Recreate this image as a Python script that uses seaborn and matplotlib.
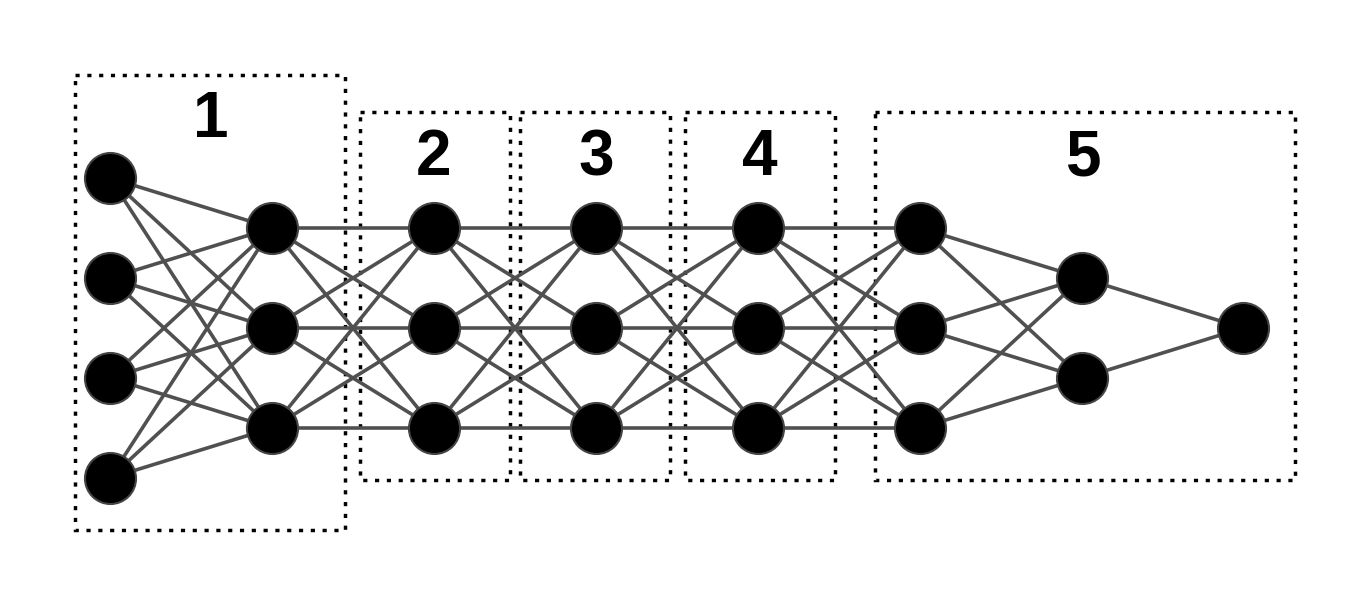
import matplotlib
matplotlib.use("Agg")
import matplotlib.pyplot as plt
import seaborn as sns
import pandas as pd
from matplotlib.collections import LineCollection
from matplotlib.patches import Rectangle

layer_sizes = [4, 3, 3, 3, 3, 3, 2, 1]
layer_x = [110, 272, 434, 596, 758, 920, 1082, 1243]
y_center = 328
y_gap = 100

box_labels = ["1", "2", "3", "4", "5"]
box_x0 = [75, 360, 520, 685, 875]
box_x1 = [345, 510, 670, 835, 1295]
box_y0 = [75, 112, 112, 112, 112]
box_y1 = [530, 480, 480, 480, 480]
label_x = [211, 434, 596, 760, 1083]
label_y = [120, 158, 158, 158, 158]

sns.set_theme(style="white")
fig = plt.figure(figsize=(13.69, 6.06), dpi=100)
ax = fig.add_axes([0, 0, 1, 1])
ax.set_xlim(0, 1369)
ax.set_ylim(606, 0)
ax.axis("off")

nodes = []
for li, (n, x) in enumerate(zip(layer_sizes, layer_x)):
    for k in range(n):
        y = y_center + (k - (n - 1) / 2) * y_gap
        nodes.append({"layer": li, "x": x, "y": y})
df = pd.DataFrame(nodes)

segs = []
for li in range(len(layer_sizes) - 1):
    a = df[df.layer == li]
    b = df[df.layer == li + 1]
    for _, p in a.iterrows():
        for _, q in b.iterrows():
            segs.append([(p.x, p.y), (q.x, q.y)])
ax.add_collection(LineCollection(segs, colors="#505050", linewidths=2.6, zorder=1))

for x0, x1, y0, y1 in zip(box_x0, box_x1, box_y0, box_y1):
    ax.add_patch(Rectangle((x0, y0), x1 - x0, y1 - y0, fill=False,
                           edgecolor="black", linewidth=2.5, linestyle=(0, (1.2, 2.2)), zorder=0))

sns.scatterplot(data=df, x="x", y="y", ax=ax, s=1350, color="black",
                edgecolor="#444444", linewidth=1.5, zorder=3, legend=False)

for t, x, y in zip(box_labels, label_x, label_y):
    ax.text(x, y, t, ha="center", va="center", fontsize=46, fontweight="bold",
            family="Liberation Sans", color="black")

ax.set_xlabel(""); ax.set_ylabel("")
fig.savefig("out.png", dpi=100)
